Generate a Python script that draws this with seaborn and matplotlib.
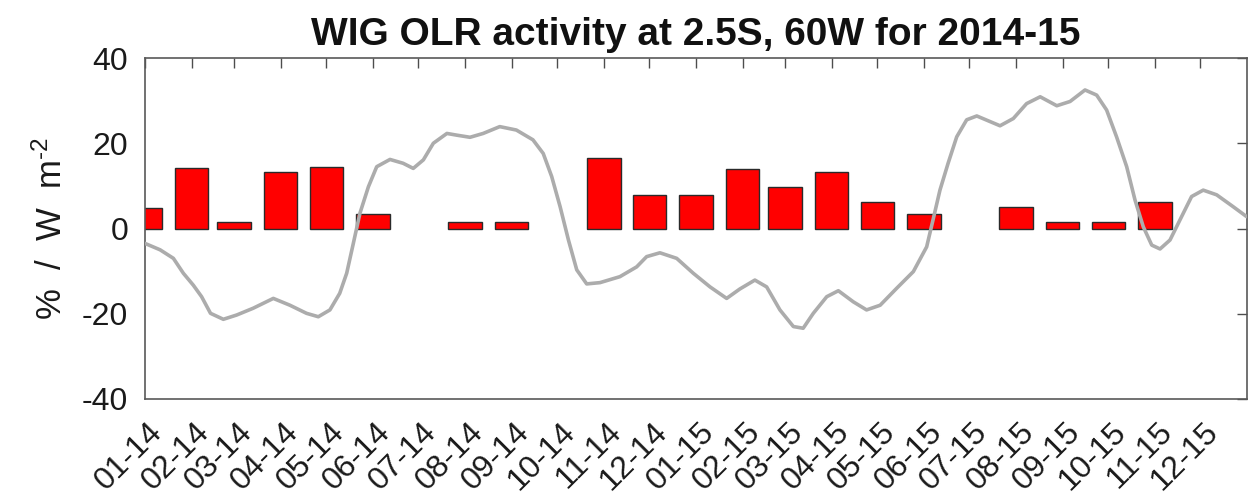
import numpy as np
import pandas as pd
import matplotlib
matplotlib.use("Agg")
import matplotlib.pyplot as plt
from matplotlib.transforms import ScaledTranslation
import seaborn as sns

# Monthly WIG activity (% of days), one bar per month start, Jan 2014 - Dec 2015
tick_labels = ["01-14", "02-14", "03-14", "04-14", "05-14", "06-14",
               "07-14", "08-14", "09-14", "10-14", "11-14", "12-14",
               "01-15", "02-15", "03-15", "04-15", "05-15", "06-15",
               "07-15", "08-15", "09-15", "10-15", "11-15", "12-15"]
activity_pct = [4.8, 14.2, 1.5, 13.2, 14.4, 3.4, 0.0, 1.5, 1.5, 0.0, 16.6, 7.8,
                7.8, 14.0, 9.7, 13.2, 6.2, 3.3, 0.0, 5.0, 1.5, 1.5, 6.2, 0.0]

# Smoothed OLR anomaly (W m^-2), days since 2014-01-01
olr_day = [0, 10, 18.8, 25.4, 32, 37.5, 43.4, 51.9, 60.7, 71.7, 85, 96, 107,
           114.8, 122.5, 129, 133.6, 138, 142.4, 148, 153.5, 162.3, 171, 177.7,
           184.4, 191, 200, 206.5, 215.3, 224, 235, 246, 257, 263.8, 269.4, 275,
           280.5, 286, 292.6, 301.4, 314.6, 325.7, 332.3, 341.1, 352.2, 363.2,
           374.3, 385.3, 394, 404, 411.8, 420.6, 429.5, 436, 442.7, 451.6, 459.3,
           469.2, 478, 487, 498, 509, 517.8, 522, 526.6, 532, 537.7, 544.3, 551,
           559.7, 566.4, 575.2, 584, 593, 604, 612.8, 622.7, 630.4, 637, 643.6,
           650.3, 655.8, 661.3, 666.9, 672.4, 679, 686.7, 693.3, 701, 709.9,
           720.9, 729.7]
olr_anom = [-3.5, -5.0, -7.0, -10.5, -13.3, -16.0, -19.9, -21.3, -20.3, -18.7,
            -16.4, -18.0, -19.9, -20.7, -19.1, -15.2, -10.5, -3.5, 3.6, 9.8, 14.5,
            16.2, 15.3, 14.1, 16.1, 20.0, 22.3, 21.9, 21.4, 22.3, 23.9, 23.1, 20.8,
            17.6, 12.2, 5.1, -2.7, -9.7, -13.0, -12.7, -11.3, -9.0, -6.6, -5.7,
            -7.0, -10.5, -13.7, -16.4, -14.2, -12.1, -13.7, -19.1, -23.0, -23.4,
            -19.9, -16.0, -14.6, -17.2, -19.1, -18.0, -14.0, -10.1, -4.3, 2.0, 9.0,
            15.3, 21.5, 25.5, 26.4, 25.1, 24.1, 25.8, 29.3, 30.9, 28.8, 29.8, 32.5,
            31.3, 27.8, 21.5, 14.5, 6.7, 0.4, -3.9, -4.8, -2.7, 2.8, 7.5, 9.0, 7.9,
            5.1, 2.8]

sns.set_style("white")
plt.rcParams["font.family"] = ["Liberation Sans", "DejaVu Sans"]
plt.rcParams["mathtext.fontset"] = "custom"
plt.rcParams["mathtext.rm"] = "Liberation Sans"
plt.rcParams["mathtext.it"] = "Liberation Sans:italic"
plt.rcParams["mathtext.bf"] = "Liberation Sans:bold"
plt.rcParams["axes.unicode_minus"] = False

W, H = 1249, 495
fig = plt.figure(figsize=(W / 100, H / 100), dpi=100)
ax = fig.add_axes([145 / W, 96 / H, 1102 / W, 341 / H])

month_starts = pd.date_range("2014-01-01", periods=len(tick_labels), freq="MS")
month_day = (month_starts - month_starts[0]).days.to_numpy()
bars = pd.DataFrame({"day": month_day, "pct": activity_pct})
bars = bars[bars["pct"] > 0]

sns.barplot(data=bars, x="day", y="pct", native_scale=True, width=22 / 28,
            color="#ff0000", saturation=1, edgecolor="#2a2a2a", linewidth=1.0,
            errorbar=None, ax=ax, zorder=2)
sns.lineplot(x=olr_day, y=olr_anom, color="#acacac", linewidth=2.6,
             estimator=None, sort=False, ax=ax, zorder=3,
             solid_joinstyle="round", solid_capstyle="round")

ax.set_xlim(0, 730)
ax.set_ylim(-40, 40)
ax.set_yticks([-40, -20, 0, 20, 40])
ax.set_xticks(month_day)
ax.set_xticklabels(tick_labels, rotation=45, ha="right", va="top")

ax.tick_params(axis="both", direction="in", length=7.2, width=1.0,
               color="0.3", top=True, right=True, labelsize=23,
               labelcolor="#1a1a1a")
ax.tick_params(axis="y", pad=12)
ax.tick_params(axis="x", pad=13)

# nudge the slanted month labels so their ends sit right of each tick
shift = ScaledTranslation(0.24, 0, fig.dpi_scale_trans)
for lab in ax.get_xticklabels():
    lab.set_transform(lab.get_transform() + shift)

for sp in ax.spines.values():
    sp.set_visible(True)
    sp.set_color("0.35")
    sp.set_linewidth(1.2)

ax.set_xlabel("")
ax.set_ylabel(r"%  /  W  m$^{\text{-2}}$", fontsize=25, color="#1a1a1a")
ax.yaxis.set_label_coords(-0.069, 0.5)
ax.set_title("WIG OLR activity at 2.5S, 60W for 2014-15", fontsize=28,
             fontweight="bold", pad=9.4, color="#111111")

fig.savefig("out.png", dpi=100)
